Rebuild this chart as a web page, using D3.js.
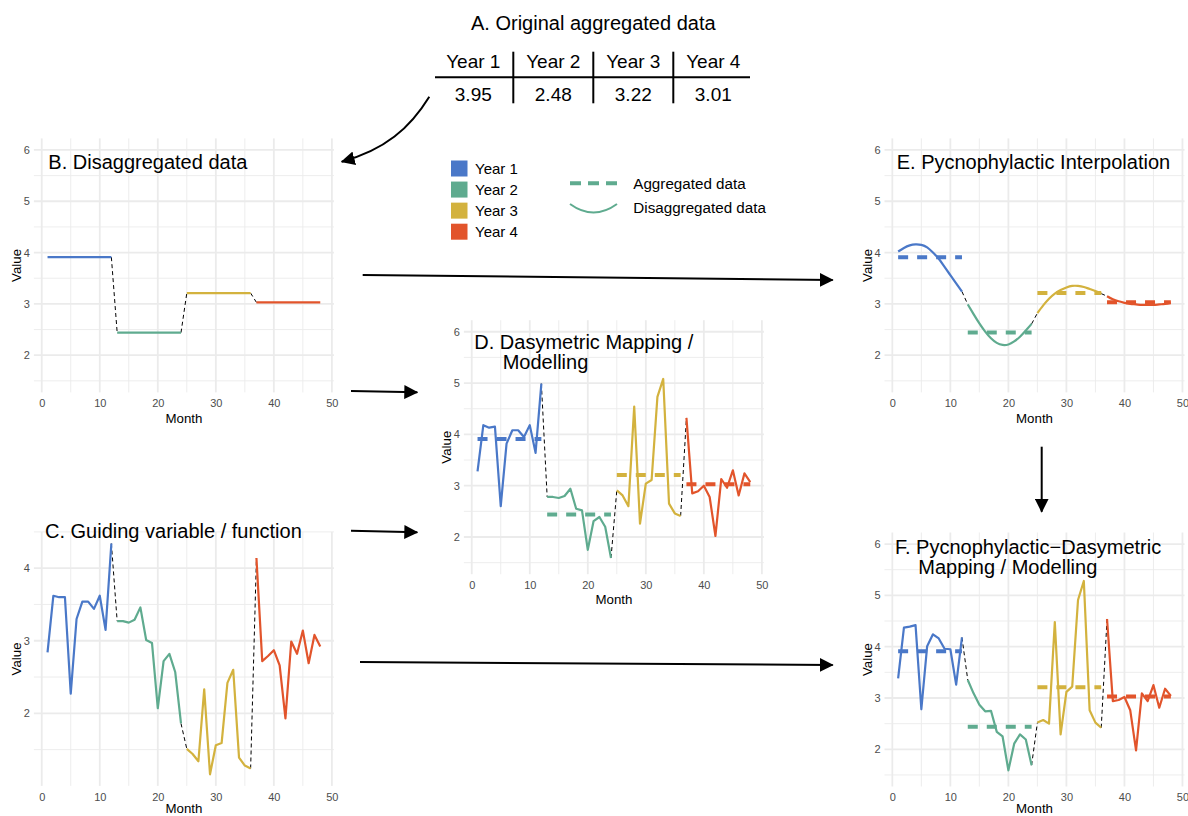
<!DOCTYPE html>
<html>
<head>
<meta charset="utf-8">
<script src="https://cdn.jsdelivr.net/npm/d3@7"></script>
<style>
  body { margin: 0; background: #fff; }
  svg { display: block; font-family: "Liberation Sans", Arial, Helvetica, sans-serif; }
</style>
</head>
<body>
<svg id="fig" width="1188" height="816"></svg>
<script>
// ---- data ----
var yearNames = ["Year 1", "Year 2", "Year 3", "Year 4"];
var yearColors = ["#4a78c8", "#5fab8f", "#d3b23e", "#e2542b"];
var tableValues = ["3.95", "2.48", "3.22", "3.01"];
// yearly means as plotted in the panels
var aggregated = [3.91, 2.44, 3.21, 3.03];
var months = d3.range(1, 49);
var xTicks = [0, 10, 20, 30, 40, 50];

// C. guiding variable
var guiding = [2.84, 3.62, 3.60, 3.60, 2.27, 3.30, 3.54, 3.54, 3.44, 3.62, 3.15, 4.34,
  3.27, 3.27, 3.25, 3.29, 3.46, 3.01, 2.97, 2.07, 2.72, 2.82, 2.57, 1.86,
  1.51, 1.44, 1.34, 2.33, 1.16, 1.56, 1.59, 2.42, 2.60, 1.39, 1.28, 1.24,
  4.14, 2.72, 2.79, 2.87, 2.66, 1.93, 2.99, 2.82, 3.14, 2.69, 3.08, 2.92];

// D. dasymetric
var dasymetric = [3.28, 4.18, 4.13, 4.15, 2.60, 3.82, 4.08, 4.08, 3.95, 4.18, 3.64, 4.99,
  2.78, 2.78, 2.76, 2.80, 2.94, 2.55, 2.52, 1.75, 2.31, 2.39, 2.20, 1.59,
  2.91, 2.81, 2.60, 4.54, 2.26, 3.04, 3.11, 4.73, 5.08, 2.65, 2.46, 2.41,
  4.32, 2.85, 2.89, 3.00, 2.78, 2.02, 3.13, 2.96, 3.30, 2.81, 3.24, 3.07];

// E. pycnophylactic interpolation
var pycnophylactic = [4.02, 4.09, 4.14, 4.16, 4.15, 4.10, 4.00, 3.88, 3.72, 3.56, 3.40, 3.24,
  2.99, 2.80, 2.62, 2.46, 2.33, 2.24, 2.20, 2.21, 2.27, 2.36, 2.48, 2.61,
  2.82, 2.97, 3.10, 3.20, 3.27, 3.32, 3.35, 3.35, 3.33, 3.29, 3.25, 3.20,
  3.15, 3.09, 3.05, 3.02, 3.00, 2.99, 2.98, 2.98, 2.98, 2.99, 3.00, 3.02];

// F. pycnophylactic-dasymetric
var pycnoDasymetric = [3.38, 4.37, 4.39, 4.42, 2.78, 4.01, 4.24, 4.16, 3.96, 3.95, 3.26, 4.18,
  3.35, 3.09, 2.87, 2.74, 2.75, 2.34, 2.25, 1.59, 2.11, 2.29, 2.19, 1.69,
  2.52, 2.57, 2.50, 4.48, 2.29, 3.12, 3.22, 4.91, 5.28, 2.76, 2.52, 2.42,
  4.54, 2.94, 2.96, 3.02, 2.76, 1.98, 3.09, 2.94, 3.25, 2.81, 3.18, 3.04];

// B. every month gets the mean of its year
var disaggregated = months.map(function(m) { return aggregated[Math.floor((m - 1) / 12)]; });

var svg = d3.select('#fig');

// arrow head
svg.append('defs').append('marker')
  .attr('id', 'head')
  .attr('markerUnits', 'userSpaceOnUse')
  .attr('markerWidth', 14).attr('markerHeight', 14)
  .attr('refX', 13).attr('refY', 7)
  .attr('orient', 'auto')
  .append('path').attr('d', 'M0,0 L14,7 L0,14 Z').attr('fill', '#000');

function drawPanel(cfg) {
  var width = 300, height = 254;
  var g = svg.append('g').attr('transform', 'translate(' + cfg.left + ',' + cfg.top + ')');

  var x = d3.scaleLinear().domain([-1.35, 50.35]).range([0, width]);
  var y = d3.scaleLinear().domain(cfg.yDomain).range([height, 0]);

  // grid
  var grid = g.append('g');
  grid.selectAll('.xminor').data([5, 15, 25, 35, 45]).enter().append('line')
    .attr('x1', x).attr('x2', x).attr('y1', 0).attr('y2', height)
    .attr('stroke', '#ebebeb').attr('stroke-width', 0.9);
  grid.selectAll('.yminor').data(cfg.yMinor).enter().append('line')
    .attr('y1', y).attr('y2', y).attr('x1', 0).attr('x2', width)
    .attr('stroke', '#ebebeb').attr('stroke-width', 0.9);
  grid.selectAll('.xmajor').data(xTicks).enter().append('line')
    .attr('x1', x).attr('x2', x).attr('y1', 0).attr('y2', height)
    .attr('stroke', '#ebebeb').attr('stroke-width', 1.8);
  grid.selectAll('.ymajor').data(cfg.yMajor).enter().append('line')
    .attr('y1', y).attr('y2', y).attr('x1', 0).attr('x2', width)
    .attr('stroke', '#ebebeb').attr('stroke-width', 1.8);

  // axes
  var xAxis = g.append('g')
    .attr('transform', 'translate(0,' + height + ')')
    .call(d3.axisBottom(x).tickValues(xTicks).tickSize(0).tickPadding(7).tickFormat(d3.format('d')));
  var yAxis = g.append('g')
    .call(d3.axisLeft(y).tickValues(cfg.yMajor).tickSize(0).tickPadding(4).tickFormat(d3.format('d')));
  [xAxis, yAxis].forEach(function(a) {
    a.select('.domain').remove();
    a.selectAll('text').attr('fill', '#4d4d4d').style('font-size', '11px').style('font-family', 'inherit');
  });

  g.append('text')
    .attr('x', width / 2).attr('y', height + (cfg.monthGap || 25.6)).attr('dy', '0.35em')
    .attr('text-anchor', 'middle').style('font-size', '13.3px').text('Month');
  g.append('text')
    .attr('transform', 'translate(-17.2,' + (height / 2) + ') rotate(-90)')
    .attr('dy', '0.35em').attr('text-anchor', 'middle').style('font-size', '13.3px').text('Value');

  // data lines, one per year, with dashed links between years
  var line = d3.line()
    .x(function(d) { return x(d.m); })
    .y(function(d) { return y(d.v); })
    .curve(cfg.curve || d3.curveLinear);
  var link = d3.line()
    .x(function(d) { return x(d.m); })
    .y(function(d) { return y(d.v); });

  var pts = months.map(function(m, i) { return {m: m, v: cfg.values[i]}; });

  for (var k = 0; k < 3; k++) {
    g.append('path')
      .attr('d', link([pts[12 * k + 11], pts[12 * k + 12]]))
      .attr('fill', 'none').attr('stroke', '#000').attr('stroke-width', 1)
      .attr('stroke-dasharray', '4,3');
  }

  yearNames.forEach(function(name, k) {
    g.append('path')
      .attr('d', line(pts.slice(12 * k, 12 * k + 12)))
      .attr('fill', 'none').attr('stroke', yearColors[k]).attr('stroke-width', 2.2)
      .attr('stroke-linejoin', 'round');
  });

  if (cfg.showAggregated) {
    yearNames.forEach(function(name, k) {
      g.append('line')
        .attr('x1', x(12 * k + 1)).attr('x2', x(12 * k + 12))
        .attr('y1', y(aggregated[k])).attr('y2', y(aggregated[k]))
        .attr('stroke', yearColors[k]).attr('stroke-width', 4)
        .attr('stroke-dasharray', '10,9');
    });
  }

  // panel title
  cfg.title.forEach(function(t) {
    svg.append('text')
      .attr('x', t[0]).attr('y', t[1]).attr('dy', '0.35em')
      .style('font-size', '20px').attr('fill', '#000').text(t[2]);
  });
}

var yMajorStd = [2, 3, 4, 5, 6];
var yMinorStd = [1.5, 2.5, 3.5, 4.5, 5.5];

drawPanel({ left: 33.9, top: 138.4, yDomain: [1.275, 6.225], yMajor: yMajorStd, yMinor: yMinorStd,
  values: disaggregated, title: [[48.3, 161.7, 'B. Disaggregated data']] });

drawPanel({ left: 33.9, top: 531.9, yDomain: [1.0, 4.5], yMajor: [2, 3, 4], yMinor: [1.5, 2.5, 3.5, 4.5],
  values: guiding, monthGap: 22.5, title: [[45, 530.7, 'C. Guiding variable / function']] });

drawPanel({ left: 463.9, top: 320.2, yDomain: [1.275, 6.225], yMajor: yMajorStd, yMinor: yMinorStd,
  values: dasymetric, showAggregated: true,
  title: [[474.3, 341.7, 'D. Dasymetric Mapping /'], [502.7, 361.7, 'Modelling']] });

drawPanel({ left: 884.5, top: 138.4, yDomain: [1.275, 6.225], yMajor: yMajorStd, yMinor: yMinorStd,
  values: pycnophylactic, showAggregated: true, curve: d3.curveNatural,
  title: [[896.7, 161.7, 'E. Pycnophylactic Interpolation']] });

drawPanel({ left: 884.5, top: 532.5, yDomain: [1.275, 6.225], yMajor: yMajorStd, yMinor: yMinorStd,
  values: pycnoDasymetric, showAggregated: true, monthGap: 22,
  title: [[895, 547.3, 'F. Pycnophylactic\u2212Dasymetric'], [918.3, 567.3, 'Mapping / Modelling']] });

// ---- A. table ----
var tableX = d3.scalePoint().domain(yearNames).range([473.3, 713.3]);
svg.append('text').attr('x', 593.3).attr('y', 23.3).attr('dy', '0.35em')
  .attr('text-anchor', 'middle').style('font-size', '20px').text('A. Original aggregated data');
svg.selectAll('.thead').data(yearNames).enter().append('text')
  .attr('x', function(d) { return tableX(d); }).attr('y', 61).attr('dy', '0.35em')
  .attr('text-anchor', 'middle').style('font-size', '19px').text(function(d) { return d; });
svg.selectAll('.tval').data(tableValues).enter().append('text')
  .attr('x', function(d, i) { return tableX(yearNames[i]); }).attr('y', 94.3).attr('dy', '0.35em')
  .attr('text-anchor', 'middle').style('font-size', '19px').text(function(d) { return d; });
svg.append('line').attr('x1', 435).attr('x2', 750).attr('y1', 77.3).attr('y2', 77.3)
  .attr('stroke', '#000').attr('stroke-width', 2);
svg.selectAll('.tsep').data(yearNames.slice(1)).enter().append('line')
  .attr('x1', function(d) { return tableX(d) - 40; }).attr('x2', function(d) { return tableX(d) - 40; })
  .attr('y1', 51.7).attr('y2', 103.3).attr('stroke', '#000').attr('stroke-width', 2);

// ---- legend ----
var legY = d3.scalePoint().domain(yearNames).range([168.5, 231.7]);
svg.selectAll('.legsq').data(yearNames).enter().append('rect')
  .attr('x', 451).attr('y', function(d) { return legY(d) - 8; })
  .attr('width', 16.5).attr('height', 16)
  .attr('fill', function(d, i) { return yearColors[i]; });
svg.selectAll('.legtx').data(yearNames).enter().append('text')
  .attr('x', 475).attr('y', function(d) { return legY(d); }).attr('dy', '0.35em')
  .style('font-size', '15px').text(function(d) { return d; });

svg.append('line').attr('x1', 570).attr('x2', 617).attr('y1', 183.3).attr('y2', 183.3)
  .attr('stroke', yearColors[1]).attr('stroke-width', 4).attr('stroke-dasharray', '11,7');
svg.append('path').attr('d', 'M570,204 Q593.5,221 617,204')
  .attr('fill', 'none').attr('stroke', yearColors[1]).attr('stroke-width', 2);
svg.append('text').attr('x', 633.3).attr('y', 183.3).attr('dy', '0.35em')
  .style('font-size', '15.2px').text('Aggregated data');
svg.append('text').attr('x', 633.3).attr('y', 207.3).attr('dy', '0.35em')
  .style('font-size', '15.2px').text('Disaggregated data');

// ---- arrows between panels ----
var arrows = [
  'M429.3,96.7 C410,128 385,150 341.7,161.7',
  'M362.7,275 L832.7,280',
  'M351,391 L417.3,392.3',
  'M351,530.7 L417.3,532.3',
  'M360,662 L832.7,665',
  'M1041.7,446.7 L1041.7,511.7'
];
svg.selectAll('.arrow').data(arrows).enter().append('path')
  .attr('d', function(d) { return d; })
  .attr('fill', 'none').attr('stroke', '#000').attr('stroke-width', 2)
  .attr('marker-end', 'url(#head)');
</script>
</body>
</html>
